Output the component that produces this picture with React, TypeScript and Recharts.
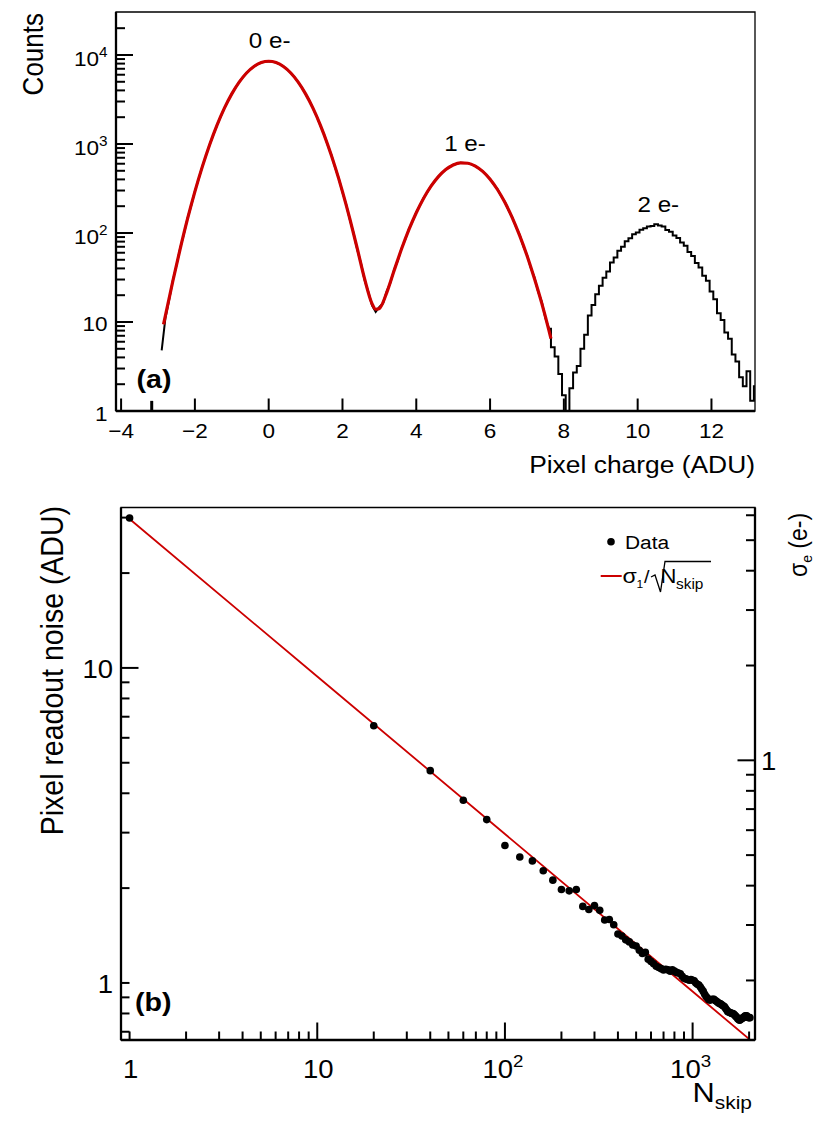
import React from "react";
import { ComposedChart, Line, XAxis, YAxis, ReferenceArea } from "recharts";

// ---- panel (a): pixel charge histogram, 0.1 ADU bins starting at -2.9 ----
const chargeBinStart = -2.9;
const chargeBinWidth = 0.1;
const chargeCounts = [
  4.8, 11.0, 17.5, 29, 43, 67, 96, 146, 203, 295,
  402, 556, 738, 985, 1268, 1633, 2036, 2531, 3052, 3667,
  4280, 4962, 5610, 6290, 6870, 7440, 7865, 8230, 8410, 8515,
  8420, 8225, 7870, 7420, 6895, 6260, 5635, 4940, 4305, 3645,
  3075, 2512, 2055, 1615, 1284, 972, 750, 546, 410, 287,
  209, 141, 100, 65, 46, 29.5, 21.8, 15.4, 13.0, 14.8,
  16.2, 22.3, 27.6, 38.9, 49, 67, 84, 111, 135, 171,
  204, 249, 287, 339, 380, 433, 472, 519, 549, 584,
  599, 617, 613, 611, 587, 568, 528, 495, 445, 405,
  352, 311, 260, 224, 180, 151, 118, 96, 71, 57,
  41, 32, 22, 17, 11, 8.4, 5.2, 4.1, 2.6, 1.5,
  1.0, 1.8, 2.7, 3.2, 5.0, 7.2, 11.8, 15.5, 20.5, 25.5,
  31.5, 37, 46.5, 53, 63, 70, 81, 87, 97, 101,
  109, 113, 118, 120, 125, 121, 118, 108, 103, 94,
  88, 78, 72, 61, 55, 46, 41, 33, 29, 22,
  18, 12.5, 10.5, 7.6, 6.5, 4.3, 3.6, 2.4, 1.9, 2.8,
  1.3, 1.9,
];

// single isolated low bin left of the spectrum
const strayCharge = [-3.17, -3.17];
const strayCounts = [1, 1.3];

// red fit over the 0 e- and 1 e- peaks
const fitCharge = [
  -2.85, -2.6, -2.4, -2.2, -2.0, -1.8, -1.6, -1.4, -1.2, -1.0,
  -0.8, -0.6, -0.4, -0.2, 0, 0.2, 0.4, 0.6, 0.8, 1.0,
  1.2, 1.4, 1.6, 1.8, 2.0, 2.2, 2.4, 2.6, 2.8, 2.9,
  3.0, 3.2, 3.4, 3.6, 3.8, 4.0, 4.2, 4.4, 4.6, 4.8,
  5.0, 5.2, 5.4, 5.6, 5.8, 6.0, 6.2, 6.4, 6.6, 6.8,
  7.0, 7.2, 7.4, 7.6, 7.65,
];
const fitCounts = [
  9.4, 28.5, 66, 144, 292, 553, 981, 1628, 2525, 3658,
  4955, 6275, 7427, 8218, 8500, 8218, 7427, 6275, 4955, 3658,
  2525, 1628, 981, 553, 292, 144, 67, 30.5, 16.1, 13.9,
  14.2, 21.4, 37.9, 66, 109, 169, 246, 336, 430, 516,
  581, 614, 608, 565, 492, 402, 308, 221, 149, 94,
  56, 31, 16.3, 7.9, 6.5,
];

const chargeTicks = [-4, -2, 0, 2, 4, 6, 8, 10, 12];
const countTicks = [
  1, 2, 3, 4, 5, 6, 7, 8, 9,
  10, 20, 30, 40, 50, 60, 70, 80, 90,
  100, 200, 300, 400, 500, 600, 700, 800, 900,
  1000, 2000, 3000, 4000, 5000, 6000, 7000, 8000, 9000,
  10000, 20000,
];

// ---- panel (b): readout noise vs number of skipper samples ----
const nSkip = [
  1, 20, 40, 60, 80, 100, 120, 140, 160, 180,
  200, 220, 240, 260, 280, 300, 320, 340, 360, 380,
  400, 420, 440, 460, 480, 500, 520, 540, 560, 580,
  600, 620, 640, 660, 680, 700, 720, 740, 760, 780,
  800, 820, 840, 860, 880, 900, 920, 940, 960, 980,
  1000, 1020, 1040, 1060, 1080, 1100, 1120, 1140, 1160, 1180,
  1200, 1220, 1240, 1260, 1280, 1300, 1320, 1340, 1360, 1380,
  1400, 1420, 1440, 1460, 1480, 1500, 1520, 1540, 1560, 1580,
  1600, 1620, 1640, 1660, 1680, 1700, 1720, 1740, 1760, 1780,
  1800, 1820, 1840, 1860, 1880, 1900, 1920, 1940, 1960, 1980,
  2000, 2020,
];
const readoutNoise = [
  29.9, 6.55, 4.72, 3.8, 3.3, 2.73, 2.51, 2.44, 2.27, 2.12,
  1.98, 1.96, 1.98, 1.75, 1.71, 1.76, 1.7, 1.585, 1.59, 1.53,
  1.43, 1.41, 1.37, 1.35, 1.32, 1.31, 1.27, 1.24, 1.25, 1.19,
  1.17, 1.15, 1.13, 1.12, 1.11, 1.1, 1.105, 1.1, 1.09, 1.1,
  1.09, 1.08, 1.075, 1.07, 1.05, 1.035, 1.03, 1.025, 1.02, 1.025,
  1.02, 1.015, 1.0, 0.99, 0.985, 0.97, 0.955, 0.94, 0.92, 0.905,
  0.895, 0.885, 0.882, 0.886, 0.888, 0.887, 0.88, 0.875, 0.868, 0.862,
  0.86, 0.855, 0.85, 0.845, 0.84, 0.83, 0.82, 0.81, 0.808, 0.805,
  0.803, 0.8, 0.8, 0.795, 0.79, 0.783, 0.778, 0.77, 0.765, 0.762,
  0.765, 0.77, 0.773, 0.775, 0.78, 0.785, 0.787, 0.786, 0.78, 0.777,
  0.776, 0.776,
];
const fitNSkip = [1, 10, 100, 1000, 2200];
const fitNoise = [29.7, 9.39, 2.97, 0.939, 0.633];

const nSkipTicks = [
  1, 2, 3, 4, 5, 6, 7, 8, 9,
  10, 20, 30, 40, 50, 60, 70, 80, 90,
  100, 200, 300, 400, 500, 600, 700, 800, 900,
  1000, 2000,
];
const noiseTicks = [0.7, 0.8, 0.9, 1, 2, 3, 4, 5, 6, 7, 8, 9, 10, 20, 30];
const sigmaETicks = [0.2, 0.3, 0.4, 0.5, 0.6, 0.7, 0.8, 0.9, 1, 2, 3, 4, 5, 6];

const histData = chargeCounts.map((c, i) => ({
  q: Math.round((chargeBinStart + i * chargeBinWidth) * 100) / 100,
  c,
}));
// under the fit the histogram is drawn as a plain polyline (mostly hidden),
// past the fit it keeps its stepped look
const histUnderFit = histData.filter((d) => d.q <= 7.6);
const histPastFit = histData.filter((d) => d.q >= 7.6);
const strayData = strayCharge.map((q, i) => ({ q, c: strayCounts[i] }));
const fitData = fitCharge.map((q, i) => ({ q, c: fitCounts[i] }));
const noiseData = nSkip.map((n, i) => ({ n, s: readoutNoise[i] }));
const noiseFitData = fitNSkip.map((n, i) => ({ n, s: fitNoise[i] }));

const FONT = "'Liberation Sans', Arial, Helvetica, sans-serif";
const STRETCH = 1.1;
const RED = "#cc0000";

function Label({ x, y, size, anchor = "start", weight = "normal", rotate = false, children }: any) {
  const t = rotate
    ? `translate(${x},${y}) rotate(-90) scale(1,${STRETCH})`
    : `translate(${x},${y}) scale(${STRETCH},1)`;
  return (
    <text transform={t} fontFamily={FONT} fontSize={size} fontWeight={weight} textAnchor={anchor} fill="#000">
      {children}
    </text>
  );
}

function Pow({ x, y, size, anchor, exp }: any) {
  return (
    <Label x={x} y={y} size={size} anchor={anchor}>
      <tspan>10</tspan>
      <tspan dy={-0.42 * size} fontSize={0.68 * size}>{exp}</tspan>
    </Label>
  );
}

const isDecade = (v: number) => Math.abs(Math.log10(v) - Math.round(Math.log10(v))) < 1e-9;

const ChargeTick = ({ x, y, payload }: any) => {
  const v = payload.value;
  return (
    <g>
      <line x1={x} x2={x} y1={y} y2={y - 12.5} stroke="#000" strokeWidth={2} />
      <Label x={x} y={y + 26.5} size={20.5} anchor="middle">
        {v < 0 ? `\u2212${-v}` : `${v}`}
      </Label>
    </g>
  );
};

const CountTick = ({ x, y, payload }: any) => {
  const v = payload.value;
  const dec = isDecade(v);
  const e = Math.round(Math.log10(v));
  let lab: React.ReactNode = null;
  if (dec && e <= 1) lab = <Label x={x - 8.5} y={y + 9.5} size={20.5} anchor="end">{String(v)}</Label>;
  else if (dec) lab = <Pow x={x - 8.5} y={y + 11} size={20.5} anchor="end" exp={e} />;
  return (
    <g>
      <line x1={x} x2={x + (dec ? 17 : 9)} y1={y} y2={y} stroke="#000" strokeWidth={2} />
      {lab}
    </g>
  );
};

const NSkipTick = ({ x, y, payload }: any) => {
  const v = payload.value;
  const dec = isDecade(v);
  const e = Math.round(Math.log10(v));
  let lab: React.ReactNode = null;
  if (dec && e <= 1) lab = <Label x={x + 1} y={y + 37.5} size={25} anchor="middle">{String(v)}</Label>;
  else if (dec) lab = <Pow x={x - 2} y={y + 37.5} size={25} anchor="middle" exp={e} />;
  return (
    <g>
      <line x1={x} x2={x} y1={y} y2={y - (dec && v > 1 ? 17.5 : 8.5)} stroke="#000" strokeWidth={2} />
      {lab}
    </g>
  );
};

const NoiseTick = ({ x, y, payload }: any) => {
  const v = payload.value;
  const lab = v === 1 || v === 10 ? (
    <Label x={x - 8} y={y + 10} size={25} anchor="end">{String(v)}</Label>
  ) : null;
  return (
    <g>
      <line x1={x} x2={x + (v === 10 ? 17.5 : 8.5)} y1={y} y2={y} stroke="#000" strokeWidth={2} />
      {lab}
    </g>
  );
};

const SigmaTick = ({ x, y, payload }: any) => {
  const v = payload.value;
  return (
    <g>
      <line x1={x} x2={x - (v === 1 ? 17.5 : 9)} y1={y} y2={y} stroke="#000" strokeWidth={2} />
      {v === 1 && <Label x={x + 6} y={y + 10} size={25} anchor="start">1</Label>}
    </g>
  );
};

function ChargePanel() {
  const xDom: [number, number] = [-4.138, 13.18];
  const yDom: [number, number] = [1, 30400];
  return (
    <ComposedChart width={831} height={490} margin={{ top: 12, right: 76, bottom: 49, left: 76 }}>
      <XAxis
        dataKey="q"
        type="number"
        domain={xDom}
        allowDataOverflow
        ticks={chargeTicks}
        interval={0}
        tickSize={0}
        tickMargin={0}
        height={30}
        tick={ChargeTick}
        axisLine={{ stroke: "#000", strokeWidth: 2.3 }}
      />
      <YAxis
        type="number"
        scale="log"
        domain={yDom}
        allowDataOverflow
        ticks={countTicks}
        interval={0}
        tickSize={0}
        tickMargin={0}
        width={40}
        tick={CountTick}
        axisLine={{ stroke: "#000", strokeWidth: 2.3 }}
      />
      <ReferenceArea x1={xDom[0]} x2={xDom[1]} y1={yDom[0]} y2={yDom[1]} fill="none" stroke="#000" strokeWidth={1.3} ifOverflow="visible" />
      <Line data={histUnderFit} dataKey="c" type="linear" stroke="#000" strokeWidth={2} dot={false} isAnimationActive={false} />
      <Line data={histPastFit} dataKey="c" type="step" stroke="#000" strokeWidth={2} dot={false} isAnimationActive={false} />
      <Line data={strayData} dataKey="c" type="linear" stroke="#000" strokeWidth={3} dot={false} isAnimationActive={false} />
      <Line data={fitData} dataKey="c" type="monotone" stroke={RED} strokeWidth={3.2} dot={false} isAnimationActive={false} />
    </ComposedChart>
  );
}

function NoisePanel() {
  const xDom: [number, number] = [0.9, 2150];
  const yDom: [number, number] = [0.659, 32.3];
  const eDom: [number, number] = [0.1294, 6.35];
  return (
    <ComposedChart width={831} height={637} margin={{ top: 17.5, right: 46, bottom: 57, left: 81 }}>
      <XAxis
        dataKey="n"
        type="number"
        scale="log"
        domain={xDom}
        allowDataOverflow
        ticks={nSkipTicks}
        interval={0}
        tickSize={0}
        tickMargin={0}
        height={30}
        tick={NSkipTick}
        axisLine={{ stroke: "#000", strokeWidth: 2.3 }}
      />
      <YAxis
        yAxisId="left"
        type="number"
        scale="log"
        domain={yDom}
        allowDataOverflow
        ticks={noiseTicks}
        interval={0}
        tickSize={0}
        tickMargin={0}
        width={40}
        tick={NoiseTick}
        axisLine={{ stroke: "#000", strokeWidth: 2.3 }}
      />
      <YAxis
        yAxisId="right"
        orientation="right"
        type="number"
        scale="log"
        domain={eDom}
        allowDataOverflow
        ticks={sigmaETicks}
        interval={0}
        tickSize={0}
        tickMargin={0}
        width={30}
        tick={SigmaTick}
        axisLine={{ stroke: "#000", strokeWidth: 2.3 }}
      />
      <ReferenceArea yAxisId="left" x1={xDom[0]} x2={xDom[1]} y1={yDom[0]} y2={yDom[1]} fill="none" stroke="#000" strokeWidth={1.3} ifOverflow="visible" />
      <Line yAxisId="left" data={noiseFitData} dataKey="s" type="linear" stroke={RED} strokeWidth={1.8} dot={false} isAnimationActive={false} />
      <Line
        yAxisId="left"
        data={noiseData}
        dataKey="s"
        stroke="none"
        dot={{ r: 3.8, fill: "#000", stroke: "none" }}
        activeDot={false}
        isAnimationActive={false}
      />
    </ComposedChart>
  );
}

export default function App() {
  return (
    <div style={{ position: "absolute", left: 0, top: 0, width: 831, height: 1127, background: "#fff" }}>
      <div style={{ position: "absolute", left: 0, top: 0 }}>
        <ChargePanel />
      </div>
      <div style={{ position: "absolute", left: 0, top: 490 }}>
        <NoisePanel />
      </div>
      <svg width={831} height={1127} style={{ position: "absolute", left: 0, top: 0, pointerEvents: "none" }}>
        {/* panel (a) text */}
        <Label x={43.3} y={13} size={26} anchor="end" rotate>Counts</Label>
        <Label x={755} y={473} size={24} anchor="end">Pixel charge (ADU)</Label>
        <Label x={136.5} y={388} size={26} weight="bold">(a)</Label>
        <Label x={269.7} y={47.7} size={22} anchor="middle">0 e-</Label>
        <Label x={465} y={150.7} size={22} anchor="middle">1 e-</Label>
        <Label x={658.3} y={211.7} size={22} anchor="middle">2 e-</Label>

        {/* panel (b) text */}
        <Label x={62.5} y={506} size={28.5} anchor="end" rotate>Pixel readout noise (ADU)</Label>
        <Label x={135} y={1011} size={26} weight="bold">(b)</Label>
        <Label x={752} y={1101.5} size={28} anchor="end">
          <tspan>N</tspan>
          <tspan dy={7.5} fontSize={19}>skip</tspan>
        </Label>
        <Label x={806.5} y={577} size={23} anchor="start" rotate>
          <tspan>σ</tspan>
          <tspan dy={5} fontSize={14}>e</tspan>
          <tspan dy={-5}> (e-)</tspan>
        </Label>

        {/* legend */}
        <circle cx={611} cy={541.7} r={3.8} fill="#000" />
        <Label x={625} y={549} size={19}>Data</Label>
        <line x1={600.7} x2={621.7} y1={576} y2={576} stroke={RED} strokeWidth={2} />
        <Label x={622.5} y={583} size={21}>σ</Label>
        <Label x={636.5} y={588} size={11}>1</Label>
        <Label x={644} y={583} size={18}>/</Label>
        <path d="M651 577 L655 575 L660.5 592 L665 561.5 L711 561.5" fill="none" stroke="#000" strokeWidth={1.3} />
        <Label x={660.5} y={583} size={20}>N</Label>
        <Label x={676} y={588.5} size={14}>skip</Label>
      </svg>
    </div>
  );
}
